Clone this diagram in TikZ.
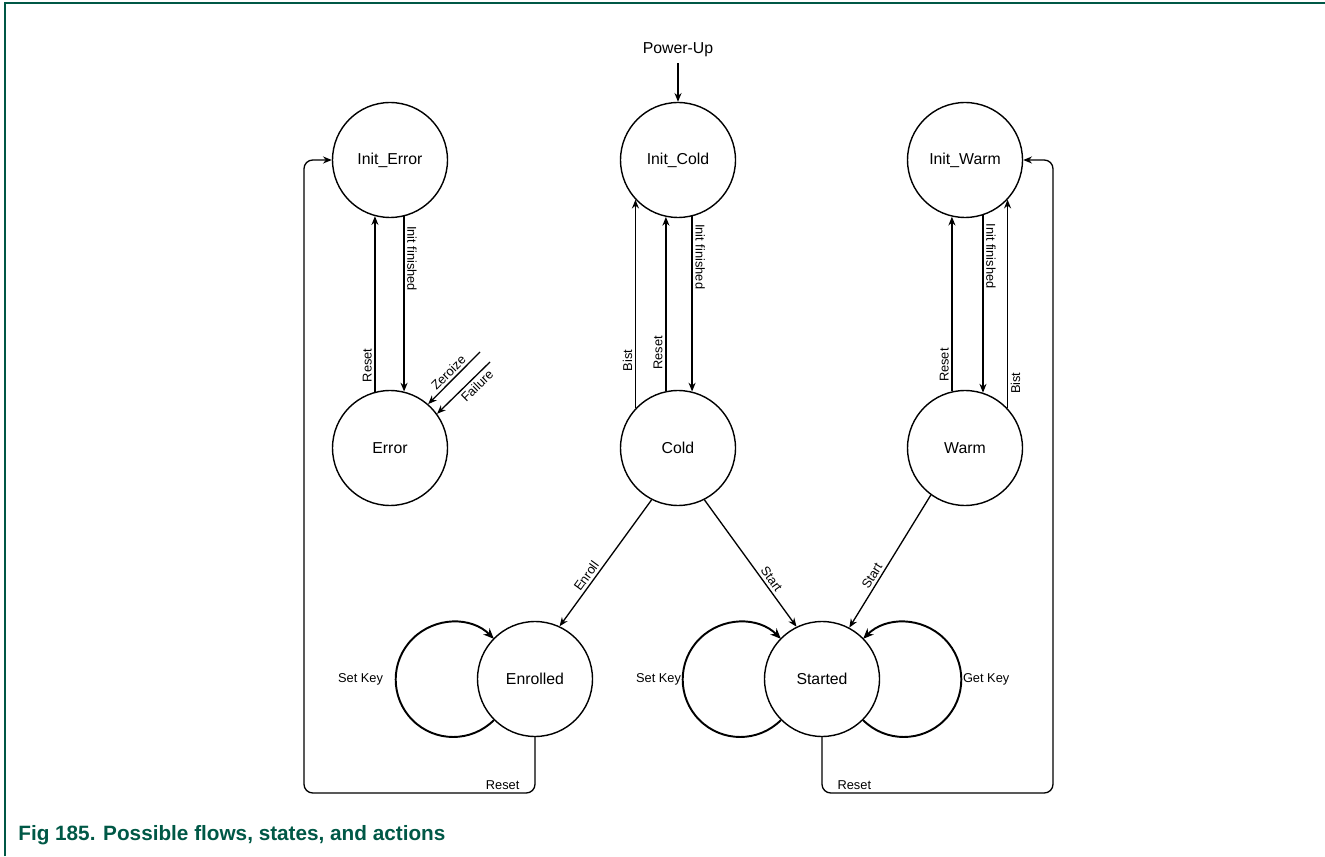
\documentclass[tikz,border=0pt]{standalone}
\usepackage{fontspec}
\setmainfont{Liberation Sans}
\usetikzlibrary{arrows.meta,calc}
\definecolor{nxpGreen}{RGB}{0,88,70}

\tikzset{
  stateNode/.style={circle, draw, line width=0.8pt, minimum size=2.3cm, inner sep=0pt, font=\fontsize{9}{11}\selectfont},
  flow/.style={-{Stealth[length=5pt,width=4pt]}, line width=0.75pt},
  keyLoop/.style={-{Stealth[length=6pt,width=5pt]}, line width=1.1pt},
  actLbl/.style={font=\fontsize{7.3}{9}\selectfont, inner sep=1.5pt}
}

\begin{document}
\begin{tikzpicture}[x=0.02cm, y=0.02cm]
  \useasboundingbox (0,0) rectangle (1325,856);

  % frame and caption
  \draw[nxpGreen, line width=1.1pt] (5,0) -- (5,853) -- (1325,853);
  \node[anchor=base west, inner sep=0pt, text=nxpGreen, font=\fontsize{11.8}{14}\selectfont\bfseries] (caption) at (18,16) {Fig 185. Possible flows, states, and actions};

  % states
  \node[stateNode] (initError) at (390,696) {Init\_Error};
  \node[stateNode] (initCold) at (678,696) {Init\_Cold};
  \node[stateNode] (initWarm) at (965,696) {Init\_Warm};
  \node[stateNode] (error) at (390,408) {Error};
  \node[stateNode] (cold) at (678,408) {Cold};
  \node[stateNode] (warm) at (965,408) {Warm};
  \node[stateNode] (enrolled) at (535,177) {Enrolled};
  \node[stateNode] (started) at (822,177) {Started};

  % power up
  \node[font=\fontsize{9}{11}\selectfont] (powerUp) at (678,806) {Power-Up};
  \draw[flow] (powerUp) -- (initCold);

  % error column
  \draw[flow] (error.105) -- node[actLbl, sloped, above, pos=0.15] (rstErr) {Reset} (initError.-105);
  \draw[flow] (initError.-76) -- node[actLbl, sloped, above, pos=0.24] (finErr) {Init finished} (error.76);
  \coordinate (zeroIn) at (480,504);
  \coordinate (failIn) at (490,494);
  \draw[flow] (zeroIn) -- node[actLbl, sloped, above, pos=0.5] (zeroLbl) {Zeroize} (error.49);
  \draw[flow] (failIn) -- node[actLbl, sloped, below, pos=0.35] (failLbl) {Failure} (error.36);

  % cold column
  \draw[flow] (cold.137) -- node[actLbl, sloped, above, pos=0.23] (bistCold) {Bist} (initCold.-137);
  \draw[flow] (cold.102) -- node[actLbl, sloped, above, pos=0.22] (rstCold) {Reset} (initCold.-102);
  \draw[flow] (initCold.-76) -- node[actLbl, sloped, above, pos=0.23] (finCold) {Init finished} (cold.76);

  % warm column
  \draw[flow] (warm.103) -- node[actLbl, sloped, above, pos=0.15] (rstWarm) {Reset} (initWarm.-103);
  \draw[flow] (initWarm.-72) -- node[actLbl, sloped, above, pos=0.23] (finWarm) {Init finished} (warm.72);
  \draw[flow] (warm.43) -- node[actLbl, sloped, below, pos=0.12] (bistWarm) {Bist} (initWarm.-43);

  % enroll / start
  \draw[flow] (cold.-117) -- node[actLbl, sloped, above, pos=0.64] (enrLbl) {Enroll} (enrolled.65);
  \draw[flow] (cold.-63) -- node[actLbl, sloped, above, pos=0.66] (startCold) {Start} (started.116);
  \draw[flow] (warm.-126) -- node[actLbl, sloped, above, pos=0.64] (startWarm) {Start} (started.62);

  % key loops
  \draw[keyLoop] (enrolled.-135) arc[start angle=-45, end angle=-315, radius=57.5];
  \node[actLbl, left] (setKeyEnr) at (386,177) {Set Key};
  \draw[keyLoop] (started.-135) arc[start angle=-45, end angle=-315, radius=57.5];
  \node[actLbl, left] (setKeyStr) at (684,177) {Set Key};
  \draw[keyLoop] (started.-45) arc[start angle=-135, end angle=135, radius=57.5];
  \node[actLbl, right] (getKeyStr) at (960,177) {Get Key};

  % reset returns
  \coordinate (retLeft) at (304,63);
  \coordinate (retRight) at (1053,63);
  \draw[flow, rounded corners=5pt] (enrolled.south) |- node[actLbl, above, pos=0.57] (rstEnr) {Reset} (retLeft) |- (initError.west);
  \draw[flow, rounded corners=5pt] (started.south) |- node[actLbl, above, pos=0.57] (rstStr) {Reset} (retRight) |- (initWarm.east);
\end{tikzpicture}
\end{document}
